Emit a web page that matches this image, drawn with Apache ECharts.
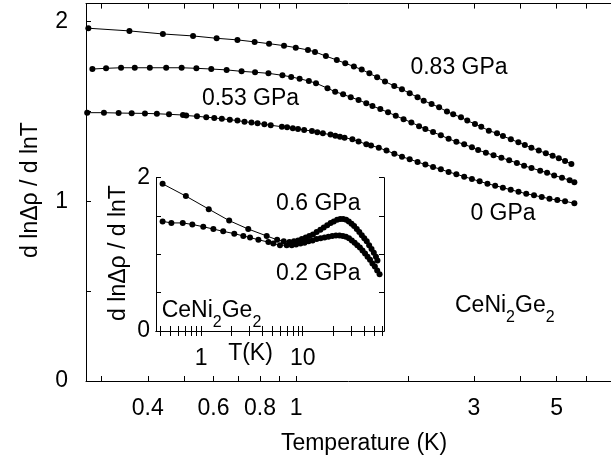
<!DOCTYPE html>
<html>
<head>
<meta charset="utf-8">
<script src="https://cdn.jsdelivr.net/npm/echarts@6/dist/echarts.min.js"></script>
<style>
html,body{margin:0;padding:0;background:#fff;}
#c{width:611px;height:460px;}
</style>
</head>
<body>
<div id="c"></div>
<script>
// ---- main panel data (T in K, d ln(Δρ)/d lnT) ----
const t083 = [0.277,0.357,0.439,0.529,0.612,0.696,0.774,0.846,0.928,0.998,1.076,1.124,1.202,1.286,1.355,1.429,1.500,1.573,1.650,1.732,1.834,1.923,2.018,2.118,2.200,2.310,2.420,2.540,2.640,2.770,2.880,3.020,3.140,3.290,3.460,3.590,3.770,3.950,4.110,4.280,4.480,4.680,4.880,5.070,5.270,5.480];
const v083 = [1.963,1.948,1.931,1.920,1.907,1.898,1.887,1.877,1.866,1.855,1.842,1.831,1.808,1.786,1.768,1.750,1.733,1.712,1.690,1.666,1.642,1.623,1.601,1.579,1.560,1.541,1.523,1.499,1.484,1.467,1.449,1.430,1.415,1.393,1.378,1.363,1.345,1.328,1.313,1.298,1.282,1.267,1.254,1.239,1.224,1.208];

const t053 = [0.284,0.309,0.339,0.369,0.405,0.448,0.493,0.540,0.592,0.651,0.714,0.776,0.843,0.919,0.970,1.022,1.082,1.131,1.214,1.273,1.337,1.402,1.471,1.543,1.603,1.683,1.765,1.851,1.943,2.039,2.138,2.223,2.331,2.446,2.566,2.692,2.825,2.964,3.080,3.231,3.388,3.556,3.731,3.913,4.091,4.283,4.519,4.716,4.927,5.171,5.423,5.582];
const v053 = [1.736,1.740,1.743,1.743,1.743,1.743,1.743,1.740,1.736,1.731,1.723,1.718,1.712,1.701,1.692,1.682,1.669,1.657,1.629,1.610,1.595,1.579,1.564,1.545,1.530,1.513,1.495,1.476,1.457,1.439,1.418,1.402,1.385,1.367,1.348,1.331,1.317,1.300,1.285,1.270,1.256,1.242,1.228,1.213,1.198,1.185,1.170,1.159,1.144,1.131,1.117,1.106];

const t000 = [0.275,0.305,0.334,0.362,0.393,0.423,0.456,0.497,0.507,0.542,0.574,0.603,0.632,0.664,0.696,0.727,0.759,0.788,0.822,0.855,0.916,0.946,0.980,1.012,1.051,1.103,1.140,1.180,1.237,1.274,1.311,1.349,1.416,1.471,1.543,1.589,1.667,1.748,1.835,1.924,2.018,2.118,2.223,2.331,2.446,2.566,2.692,2.825,2.964,3.109,3.262,3.422,3.589,3.767,3.953,4.146,4.350,4.563,4.786,5.023,5.271,5.582];
const v000 = [1.493,1.493,1.491,1.490,1.489,1.487,1.484,1.480,1.477,1.473,1.468,1.464,1.459,1.454,1.449,1.443,1.438,1.434,1.428,1.423,1.415,1.412,1.406,1.402,1.397,1.391,1.384,1.378,1.371,1.365,1.359,1.354,1.345,1.332,1.318,1.311,1.298,1.282,1.265,1.248,1.234,1.219,1.204,1.191,1.178,1.163,1.151,1.137,1.124,1.111,1.098,1.087,1.076,1.064,1.053,1.042,1.033,1.024,1.014,1.007,1.000,0.989];

// ---- inset data ----
const tIn06 = [0.418,0.708,1.19,1.89,2.91,4.42,5.6,6.5,7.4,8.2,9.0,9.8,10.7,11.6,12.6,13.7,14.9,16.1,17.4,18.8,20.2,21.8,23.4,25.0,26.7,28.4,30.2,32.0,34.0,36.0,38.1,40.3,42.6,45.0,47.5,50.0,52.5,54.3];
const vIn06 = [1.92,1.76,1.59,1.44,1.33,1.24,1.19,1.17,1.16,1.17,1.18,1.20,1.22,1.24,1.26,1.29,1.32,1.35,1.38,1.41,1.43,1.45,1.46,1.46,1.45,1.43,1.40,1.37,1.33,1.29,1.25,1.21,1.17,1.12,1.07,1.02,0.97,0.92];
const tIn02 = [0.418,0.51,0.66,0.82,1.05,1.32,1.65,2.12,2.6,3.03,3.66,4.59,5.13,5.97,6.95,7.8,8.6,9.5,10.4,11.4,12.5,13.7,15.0,16.4,17.9,19.5,21.2,23.0,24.8,26.6,28.5,30.4,32.4,34.4,36.5,38.7,41.0,43.4,45.9,48.5,51.2,54.0,57.0];
const vIn02 = [1.43,1.41,1.41,1.39,1.36,1.33,1.30,1.27,1.24,1.22,1.19,1.16,1.14,1.12,1.12,1.12,1.13,1.14,1.15,1.17,1.18,1.20,1.21,1.22,1.23,1.24,1.245,1.245,1.24,1.23,1.21,1.18,1.15,1.12,1.09,1.05,1.01,0.97,0.93,0.88,0.84,0.79,0.74];

// ---- ticks ----
const mainXTicks = [0.3,0.4,0.5,0.6,0.7,0.8,0.9,1,2,3,4,5,6];
const mainXLabels = [0.4,0.6,0.8,1,3,5];
const mainYTicks = [0,0.5,1,1.5,2];
const mainYLabels = [0,1,2];
const inXTicks = [0.4,0.5,0.6,0.7,0.8,0.9,1,2,3,4,5,6,7,8,9,10,20,30,40,50,60];
const inXLabels = [1,10];
const inYTicks = [0,0.5,1,1.5,2];
const inYLabels = [0,2];

const zip = (a,b) => a.map((x,i)=>[x,b[i]]);
const FONT = 'Liberation Sans, Arial, sans-serif';
const FS = 23;

function xAx(grid, pos, min, max, ticks, labels, showLabel) {
  return {
    type: 'log', gridIndex: grid, position: pos, min: min, max: max, logBase: 10,
    axisLine: {show: true, lineStyle: {color: '#000', width: 1}},
    axisTick: {show: true, inside: true, length: 5, customValues: ticks, lineStyle: {color: '#000', width: 1}},
    axisLabel: {show: showLabel, customValues: labels, margin: 16, color: '#000', fontSize: FS, fontFamily: FONT,
      formatter: v => String(+(+v).toFixed(2))},
    splitLine: {show: false}, minorTick: {show: false}
  };
}
function yAx(grid, pos, min, max, ticks, labels, showLabel, margin) {
  return {
    type: 'value', gridIndex: grid, position: pos, min: min, max: max,
    axisLine: {show: true, lineStyle: {color: '#000', width: 1}},
    axisTick: {show: true, inside: true, length: 5, customValues: ticks, lineStyle: {color: '#000', width: 1}},
    axisLabel: {show: showLabel, customValues: labels, margin: margin, color: '#000', fontSize: FS, fontFamily: FONT},
    splitLine: {show: false}
  };
}
function ser(xi, yi, data) {
  return {
    type: 'line', xAxisIndex: xi, yAxisIndex: yi, data: data,
    symbol: 'circle', symbolSize: 6, showSymbol: true,
    lineStyle: {color: '#000', width: 1}, itemStyle: {color: '#000'},
    emphasis: {disabled: true}, silent: true, clip: true, z: 3
  };
}

const chart = echarts.init(document.getElementById('c'), null, {renderer: 'canvas'});
const sub = {s: {fontSize: 16, fontFamily: FONT, fill: '#000', padding: [24,0,0,0]}};
const txt = (x, y, text, extra) => ({type: 'text', x: x, y: y, z: 100,
  style: Object.assign({text: text, fontSize: FS, fontFamily: FONT, fill: '#000', align: 'center', verticalAlign: 'middle'}, extra || {})});

chart.setOption({
  animation: false,
  backgroundColor: '#fff',
  grid: [
    {left: 86, top: 3.6, width: 563.6, height: 377.4, containLabel: false},
    {left: 156, top: 177.7, width: 228, height: 153.3, containLabel: false, show: true, backgroundColor: '#fff', borderWidth: 0, z: 5}
  ],
  xAxis: [
    xAx(0, 'bottom', 0.273, 7, mainXTicks, mainXLabels, true),
    xAx(0, 'top', 0.273, 7, mainXTicks, mainXLabels, false),
    Object.assign(xAx(1, 'bottom', 0.36, 63, inXTicks, inXLabels, true), {z: 6}),
    Object.assign(xAx(1, 'top', 0.36, 63, inXTicks, inXLabels, false), {z: 6})
  ],
  yAxis: [
    yAx(0, 'left', 0, 2.1, mainYTicks, mainYLabels, true, 18),
    Object.assign(yAx(1, 'left', 0, 2, inYTicks, inYLabels, true, 6), {z: 6}),
    Object.assign(yAx(1, 'right', 0, 2, inYTicks, inYLabels, false, 6), {z: 6})
  ],
  series: [
    ser(0, 0, zip(t083, v083)),
    ser(0, 0, zip(t053, v053)),
    ser(0, 0, zip(t000, v000)),
    Object.assign(ser(2, 1, zip(tIn06, vIn06)), {z: 7}),
    Object.assign(ser(2, 1, zip(tIn02, vIn02)), {z: 7})
  ],
  graphic: [
    txt(459, 68, '0.83 GPa'),
    txt(250.5, 98.3, '0.53 GPa'),
    txt(503, 213.3, '0 GPa'),
    txt(318.3, 203.3, '0.6 GPa'),
    txt(318.3, 273.3, '0.2 GPa'),
    txt(364, 444, 'Temperature (K)'),
    txt(250.5, 354, 'T(K)'),
    txt(31, 190, 'd ln\u0394\u03c1 / d lnT', {}),
    txt(119, 253, 'd ln\u0394\u03c1 / d lnT', {}),
    txt(455, 306, 'CeNi{s|2}Ge{s|2}', {align: 'left', rich: sub}),
    txt(161.7, 311, 'CeNi{s|2}Ge{s|2}', {align: 'left', rich: sub})
  ].map((g, i) => (i === 7 || i === 8) ? Object.assign(g, {rotation: Math.PI / 2}) : g)
});
</script>
</body>
</html>
